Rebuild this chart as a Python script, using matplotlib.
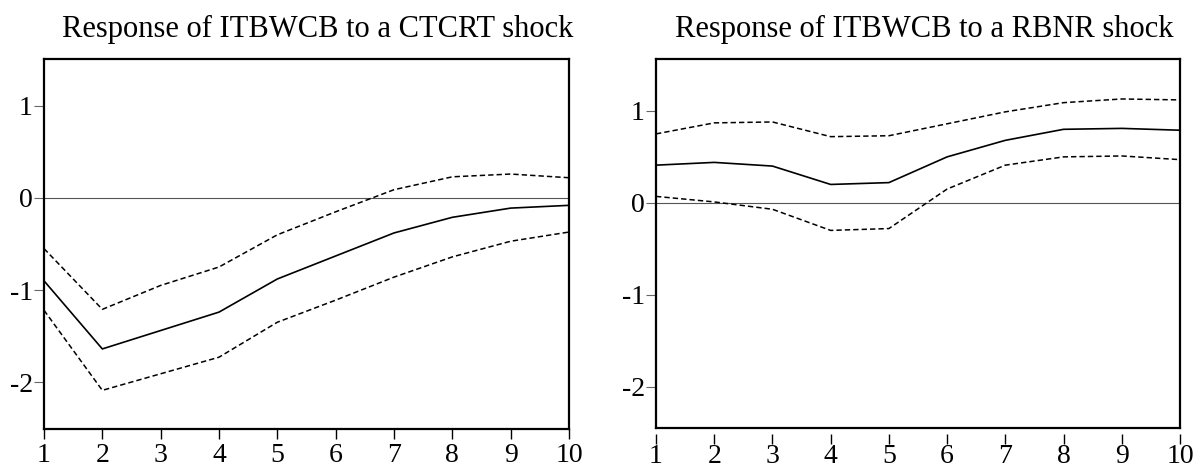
import matplotlib
matplotlib.use("Agg")
import matplotlib.pyplot as plt
from matplotlib.lines import Line2D

plt.rcParams['font.family'] = ['Liberation Serif', 'DejaVu Serif']

periods = [1, 2, 3, 4, 5, 6, 7, 8, 9, 10]

ctcrt_resp = [-0.90, -1.64, -1.44, -1.24, -0.88, -0.63, -0.38, -0.21, -0.11, -0.08]
ctcrt_upper = [-0.55, -1.21, -0.95, -0.75, -0.40, -0.15, 0.09, 0.23, 0.26, 0.22]
ctcrt_lower = [-1.22, -2.09, -1.91, -1.73, -1.35, -1.11, -0.86, -0.64, -0.47, -0.37]

rbnr_resp = [0.41, 0.44, 0.40, 0.20, 0.22, 0.50, 0.68, 0.80, 0.81, 0.79]
rbnr_upper = [0.75, 0.87, 0.88, 0.72, 0.73, 0.86, 0.99, 1.09, 1.13, 1.12]
rbnr_lower = [0.07, 0.01, -0.07, -0.30, -0.28, 0.15, 0.41, 0.50, 0.51, 0.47]

titles = ["Response of ITBWCB to a CTCRT shock", "Response of ITBWCB to a RBNR shock"]
yticks = [-2, -1, 0, 1]
ytick_labels = ["-2", "-1", "0", "1"]

W, H = 1200, 468
fig = plt.figure(figsize=(W / 100, H / 100), dpi=100)

def box(l, r, t, b):
    return [l / W, 1 - b / H, (r - l) / W, (b - t) / H]

ax1 = fig.add_axes(box(44, 569, 59, 429))
ax2 = fig.add_axes(box(656, 1180, 59, 428))

panels = [
    (ax1, ctcrt_resp, ctcrt_upper, ctcrt_lower, (-2.51, 1.51), titles[0], 318, False),
    (ax2, rbnr_resp, rbnr_upper, rbnr_lower, (-2.45, 1.565), titles[1], 924, True),
]

for ax, resp, up, lo, ylim, title, tx, detached in panels:
    if detached:
        ax.spines['bottom'].set_position(('outward', 4))
        ax.spines['bottom'].set_color('none')
        ax.add_line(Line2D([0, 1], [0, 0], transform=ax.transAxes, color='black',
                           lw=1.6, clip_on=False, zorder=5))
    ax.axhline(0, color='#555555', lw=0.8, zorder=1)
    ax.plot(periods, resp, color='black', lw=1.2, zorder=3)
    ax.plot(periods, up, color='black', lw=1.1, ls=(0, (3.5, 2.0)), zorder=3)
    ax.plot(periods, lo, color='black', lw=1.1, ls=(0, (3.5, 2.0)), zorder=3)
    ax.set_xlim(1, 10)
    ax.set_ylim(*ylim)
    ax.set_xticks(periods)
    ax.set_xticklabels([str(p) for p in periods], fontsize=20)
    ax.set_yticks(yticks)
    ax.set_yticklabels(ytick_labels, fontsize=20)
    for name, s in ax.spines.items():
        s.set_linewidth(1.6)
        if not (detached and name == 'bottom'):
            s.set_color('black')
    ax.tick_params(axis='y', direction='out', length=7, width=0.8, color='#666666', pad=1)
    if detached:
        ax.tick_params(axis='x', direction='out', length=7, width=1.0, color='black', pad=0.5)
    else:
        ax.tick_params(axis='x', direction='out', length=7, width=1.0, color='black', pad=3)
    fig.text(tx / W, 1 - 29 / H, title, ha='center', va='center', fontsize=22)

fig.savefig("out.png", dpi=100)
